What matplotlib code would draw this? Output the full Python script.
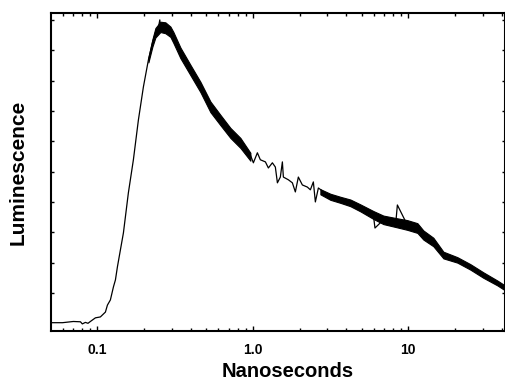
import matplotlib
matplotlib.use("Agg")
import matplotlib.pyplot as plt
from matplotlib.ticker import FixedLocator, NullFormatter, LogLocator

plt.rcParams['font.family'] = ['Liberation Sans', 'DejaVu Sans']

# Decay trace (time in ns, luminescence in arbitrary units)
time_ns = [0.0506, 0.0596, 0.0700, 0.0778, 0.0800, 0.0837, 0.0870, 0.0901, 0.0971,
           0.1045, 0.1126, 0.1160, 0.1212, 0.1268, 0.1306, 0.1345, 0.1406, 0.1470,
           0.1582, 0.1704, 0.1835, 0.1976, 0.2128, 0.2258, 0.2360, 0.2467, 0.2520,
           0.2542, 0.2737, 0.2948, 0.3082, 0.3418, 0.3964, 0.4597, 0.5331, 0.6182,
           0.7168, 0.8313, 0.9636, 1.0075, 1.069, 1.117, 1.204, 1.258, 1.335, 1.395,
           1.438, 1.502, 1.548, 1.571, 1.692, 1.795, 1.876, 1.961, 2.081, 2.241,
           2.343, 2.449, 2.523, 2.638, 3.151, 3.654, 4.236, 4.912, 5.957, 6.100,
           6.907, 8.30, 8.50, 9.85, 11.43, 12.49, 14.48, 16.80, 20.66, 25.04, 30.37,
           37.36, 42.05]
lum = [0.02, 0.02, 0.06, 0.05, -0.02, 0.03, 0.00, 0.06, 0.18,
       0.21, 0.37, 0.60, 0.77, 1.20, 1.43, 1.86, 2.42, 2.98,
       4.30, 5.39, 6.70, 7.79, 8.68, 9.24, 9.57, 9.74, 10.00,
       9.77, 9.74, 9.61, 9.41, 8.91, 8.35, 7.79, 7.13, 6.70,
       6.28, 5.95, 5.55, 5.29, 5.62, 5.39, 5.32, 5.12, 5.29, 5.15,
       4.63, 4.82, 5.32, 4.82, 4.73, 4.63, 4.33, 4.82, 4.56, 4.49,
       4.40, 4.66, 4.00, 4.46, 4.17, 4.07, 3.97, 3.80, 3.57, 3.14,
       3.41, 3.31, 3.90, 3.24, 3.14, 2.91, 2.68, 2.25, 2.09, 1.86, 1.59,
       1.33, 1.16]

# Noise envelope around the peak (thick part of the trace)
peak_band_t = [0.2128, 0.2258, 0.2360, 0.2542, 0.2737, 0.2948, 0.3082, 0.3418,
               0.3964, 0.4597, 0.5331, 0.6182, 0.7168, 0.8313, 0.9636]
peak_band_lo = [8.60, 9.12, 9.42, 9.60, 9.56, 9.44, 9.24, 8.74,
                8.18, 7.62, 6.96, 6.53, 6.11, 5.78, 5.36]
peak_band_hi = [8.76, 9.36, 9.73, 9.94, 9.92, 9.78, 9.60, 9.09,
                8.52, 7.96, 7.31, 6.87, 6.44, 6.11, 5.62]

# Noise envelope of the long tail
tail_band_t = [2.718, 3.151, 3.654, 4.236, 4.912, 5.957, 6.907, 8.50, 9.85,
               11.43, 12.49, 14.48, 16.80, 20.66, 25.04, 30.37, 37.36, 42.05]
tail_band_lo = [4.25, 4.07, 3.97, 3.86, 3.69, 3.44, 3.27, 3.16, 3.08,
                2.98, 2.76, 2.54, 2.14, 2.00, 1.77, 1.50, 1.25, 1.08]
tail_band_hi = [4.42, 4.27, 4.17, 4.08, 3.92, 3.70, 3.55, 3.46, 3.40,
                3.30, 3.06, 2.82, 2.36, 2.18, 1.95, 1.68, 1.41, 1.24]

x_major = [0.1, 1.0, 10]
x_major_labels = ["0.1", "1.0", "10"]
y_ticks = [1, 2, 3, 4, 5, 6, 7, 8, 9, 10]

fig = plt.figure(figsize=(5.06, 3.80), dpi=100)
ax = fig.add_axes([0.1008, 0.129, 0.8977, 0.837])

ax.fill_between(peak_band_t, peak_band_lo, peak_band_hi, color='black', lw=0.8)
ax.fill_between(tail_band_t, tail_band_lo, tail_band_hi, color='black', lw=0.8)
ax.plot(time_ns, lum, color='black', lw=0.9)

ax.set_xscale('log')
ax.set_xlim(0.0503, 42)
ax.set_ylim(-0.253, 10.23)

ax.xaxis.set_major_locator(FixedLocator(x_major))
ax.set_xticklabels(x_major_labels, fontsize=10, fontweight='bold')
ax.xaxis.set_minor_locator(LogLocator(base=10, subs=range(2, 10), numticks=20))
ax.xaxis.set_minor_formatter(NullFormatter())
ax.yaxis.set_major_locator(FixedLocator(y_ticks))
ax.set_yticklabels([])

ax.tick_params(axis='both', which='major', direction='in', top=True, right=True,
               length=3.5, width=1.0, pad=9, colors='black')
ax.tick_params(axis='both', which='minor', direction='in', top=True, right=True,
               length=2.2, width=1.0)
ax.tick_params(axis='y', which='major', length=2.5)

for s in ax.spines.values():
    s.set_linewidth(1.5)

ax.set_xlabel("Nanoseconds", fontsize=14.5, fontweight='bold')
ax.set_ylabel("Luminescence", fontsize=15, fontweight='bold')
ax.xaxis.set_label_coords(0.522, -0.097)
ax.yaxis.set_label_coords(-0.052, 0.5)

fig.savefig("out.png", dpi=100)
